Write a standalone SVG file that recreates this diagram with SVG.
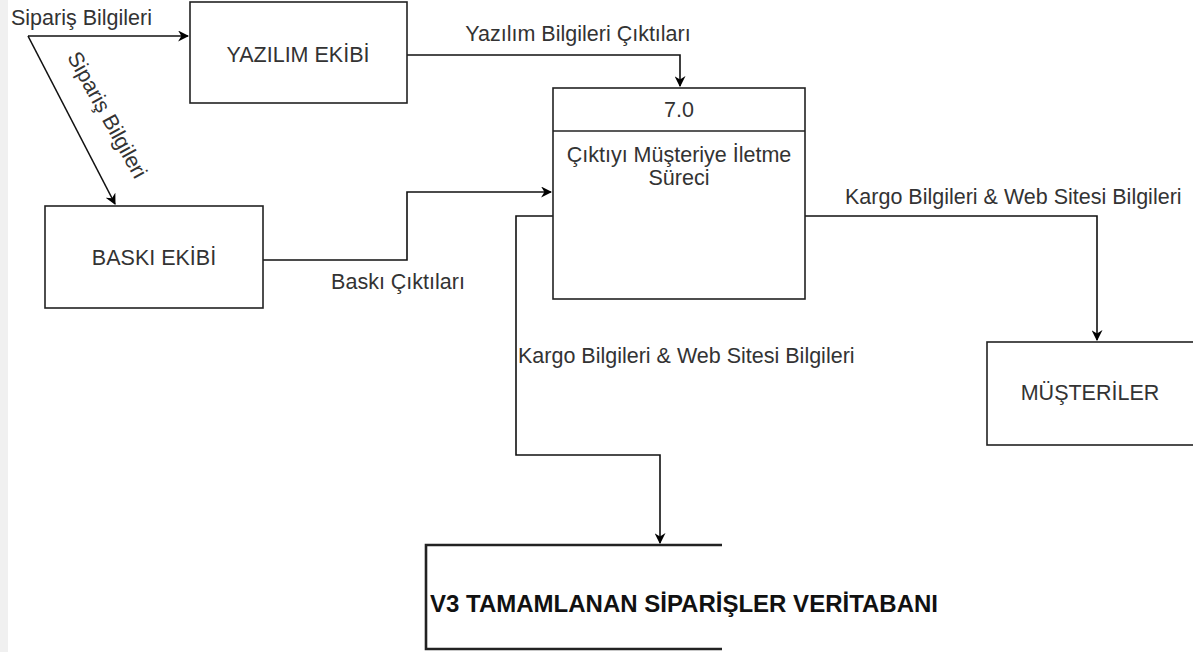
<svg xmlns="http://www.w3.org/2000/svg" width="1193" height="652" viewBox="0 0 1193 652">
<defs>
<marker id="arr" viewBox="0 0 10 10" refX="9" refY="5" markerWidth="11" markerHeight="11" markerUnits="userSpaceOnUse" orient="auto">
<path d="M0,0 L10,5 L0,10 L3,5 Z" fill="#000"/>
</marker>
<style>
.box{fill:#fff;stroke:#222;stroke-width:1.6}
.ln{fill:none;stroke:#111;stroke-width:1.6}
.t{font-family:"Liberation Sans",Arial,sans-serif;font-size:21.5px;fill:#333}
.c{text-anchor:middle}
.st{fill:none;stroke:#222;stroke-width:2.6}
</style>
</defs>
<rect x="0" y="0" width="1193" height="652" fill="#fff"/>
<rect x="0" y="0" width="8" height="652" fill="#f0f0f0"/>

<g id="connectors">
<path class="ln" d="M28,36 L188,36" marker-end="url(#arr)"/>
<path class="ln" d="M28,36 L115,204" marker-end="url(#arr)"/>
<path class="ln" d="M407,55 L680,55 L680,86" marker-end="url(#arr)"/>
<path class="ln" d="M263,260 L407,260 L407,192 L551,192" marker-end="url(#arr)"/>
<path class="ln" d="M553,216 L516,216 L516,455 L660,455 L660,543" marker-end="url(#arr)"/>
<path class="ln" d="M805,216 L1097,216 L1097,340" marker-end="url(#arr)"/>
<text class="t" x="11" y="25">Sipariş Bilgileri</text>
<text class="t c" transform="translate(107,115) rotate(61)" y="7">Sipariş Bilgileri</text>
<text class="t c" x="578" y="41">Yazılım Bilgileri Çıktıları</text>
<text class="t c" x="398" y="289">Baskı Çıktıları</text>
<text class="t" x="845" y="204">Kargo Bilgileri &amp; Web Sitesi Bilgileri</text>
<text class="t" x="518" y="363">Kargo Bilgileri &amp; Web Sitesi Bilgileri</text>
</g>

<g id="yazilim">
<rect class="box" x="190" y="2" width="217" height="101"/>
<text class="t c" x="298" y="62">YAZILIM EKİBİ</text>
</g>

<g id="baski">
<rect class="box" x="45" y="206" width="218" height="102"/>
<text class="t c" x="154" y="265">BASKI EKİBİ</text>
</g>

<g id="process">
<rect class="box" x="553" y="88" width="252" height="211"/>
<line class="box" x1="553" y1="131" x2="805" y2="131"/>
<text class="t c" x="679" y="117">7.0</text>
<text class="t c" x="679" y="162">Çıktıyı Müşteriye İletme</text>
<text class="t c" x="679" y="185">Süreci</text>
</g>

<g id="musteriler">
<rect class="box" x="987" y="342" width="220" height="103"/>
<text class="t c" x="1090" y="400">MÜŞTERİLER</text>
</g>

<g id="store">
<path class="st" d="M722,545 L426,545 L426,649 L722,649"/>
<text x="430" y="612" font-family="'Liberation Sans',Arial,sans-serif" font-size="24" font-weight="bold" fill="#111">V3 TAMAMLANAN SİPARİŞLER VERİTABANI</text>
</g>
</svg>
